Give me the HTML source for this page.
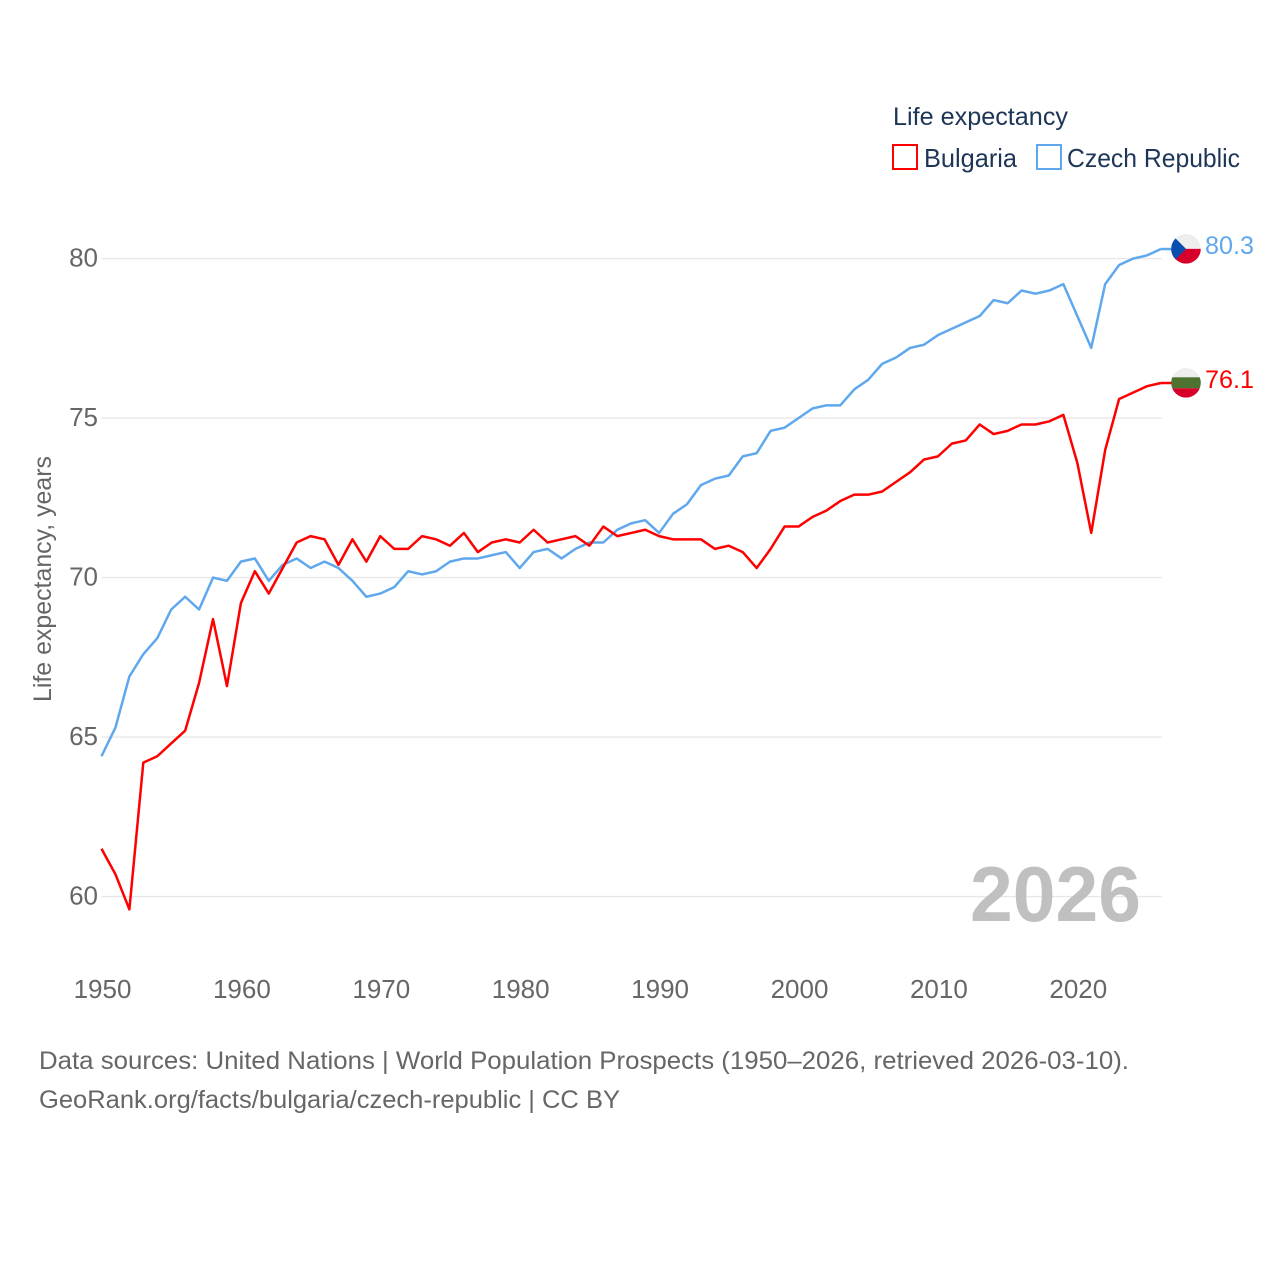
<!DOCTYPE html>
<html lang="en">
<head>
<meta charset="utf-8">
<title>Life expectancy: Bulgaria and Czech Republic</title>
<style>
html,body{margin:0;padding:0;background:#fff;width:1280px;height:1280px;overflow:hidden}
svg{display:block}
text{font-family:"Liberation Sans",sans-serif}
</style>
</head>
<body>
<svg id="chart" xmlns="http://www.w3.org/2000/svg" width="1280" height="1280" viewBox="0 0 1280 1280">
  <defs>
    <clipPath id="flag-clip-cz"><circle id="clip-cz" r="14.8"/></clipPath>
    <clipPath id="flag-clip-bg"><circle id="clip-bg" r="14.8"/></clipPath>
  </defs>
  <rect width="1280" height="1280" fill="#fff"/>
  <g id="grid"></g>
  <text x="970" y="921" font-size="78" font-weight="700" fill="#bdbdbd" fill-opacity="0.95" textLength="171" lengthAdjust="spacingAndGlyphs">2026</text>
  <g id="yticks"></g>
  <g id="xticks"></g>
  <text transform="translate(51,702) rotate(-90)" font-size="25" fill="#666" textLength="246" lengthAdjust="spacingAndGlyphs">Life expectancy, years</text>
  <g id="series"></g>
  <g id="flags"></g>

  <g>
    <text x="893" y="125" font-size="25" fill="#1d3557" textLength="175" lengthAdjust="spacingAndGlyphs">Life expectancy</text>
    <g>
      <rect x="893" y="145" width="24" height="24" fill="#fff" stroke="#ff0000" stroke-width="2"/>
      <text x="924" y="167" font-size="26" fill="#1d3557" textLength="93" lengthAdjust="spacingAndGlyphs">Bulgaria</text>
    </g>
    <g>
      <rect x="1037" y="145" width="24" height="24" fill="#fff" stroke="#5fa8ee" stroke-width="2"/>
      <text x="1067" y="167" font-size="26" fill="#1d3557" textLength="173" lengthAdjust="spacingAndGlyphs">Czech Republic</text>
    </g>
  </g>

  <text x="39" y="1069" font-size="25" fill="#666" textLength="1090" lengthAdjust="spacingAndGlyphs">Data sources: United Nations | World Population Prospects (1950–2026, retrieved 2026-03-10).</text>
  <text x="39" y="1108" font-size="25" fill="#666" textLength="581" lengthAdjust="spacingAndGlyphs">GeoRank.org/facts/bulgaria/czech-republic | CC BY</text>
</svg>
<script>
var firstYear = 1950;
var xTickLabels = [1950, 1960, 1970, 1980, 1990, 2000, 2010, 2020];
var yTickLabels = [60, 65, 70, 75, 80];
var bulgariaValues = [61.5,60.7,59.6,64.2,64.4,64.8,65.2,66.7,68.7,66.6,69.2,70.2,69.5,70.3,71.1,71.3,71.2,70.4,71.2,70.5,71.3,70.9,70.9,71.3,71.2,71.0,71.4,70.8,71.1,71.2,71.1,71.5,71.1,71.2,71.3,71.0,71.6,71.3,71.4,71.5,71.3,71.2,71.2,71.2,70.9,71.0,70.8,70.3,70.9,71.6,71.6,71.9,72.1,72.4,72.6,72.6,72.7,73.0,73.3,73.7,73.8,74.2,74.3,74.8,74.5,74.6,74.8,74.8,74.9,75.1,73.6,71.4,74.0,75.6,75.8,76.0,76.1];
var czechValues = [64.4,65.3,66.9,67.6,68.1,69.0,69.4,69.0,70.0,69.9,70.5,70.6,69.9,70.4,70.6,70.3,70.5,70.3,69.9,69.4,69.5,69.7,70.2,70.1,70.2,70.5,70.6,70.6,70.7,70.8,70.3,70.8,70.9,70.6,70.9,71.1,71.1,71.5,71.7,71.8,71.4,72.0,72.3,72.9,73.1,73.2,73.8,73.9,74.6,74.7,75.0,75.3,75.4,75.4,75.9,76.2,76.7,76.9,77.2,77.3,77.6,77.8,78.0,78.2,78.7,78.6,79.0,78.9,79.0,79.2,78.2,77.2,79.2,79.8,80.0,80.1,80.3];

var NS = 'http://www.w3.org/2000/svg';
var PLOT_LEFT = 101.5, PLOT_RIGHT = 1162, FLAG_X = 1186;
function xScale(year) { return PLOT_LEFT + (year - firstYear) * 13.94; }
function yScale(v) { return 258.6 + (80 - v) * 31.9; }
function make(tag, attrs, text) {
  var el = document.createElementNS(NS, tag);
  for (var k in attrs) el.setAttribute(k, attrs[k]);
  if (text !== undefined) el.textContent = text;
  return el;
}

var grid = document.getElementById('grid');
var yticks = document.getElementById('yticks');
var xticks = document.getElementById('xticks');
var series = document.getElementById('series');
var flags = document.getElementById('flags');

yTickLabels.forEach(function (v) {
  var line = make('line', {x1: PLOT_LEFT, x2: PLOT_RIGHT, y1: yScale(v), y2: yScale(v), stroke: '#e8e8e8', 'stroke-width': 1.4});
  
  
  grid.appendChild(line);
  var label = make('text', {x: 98, y: yScale(v) + 8, 'text-anchor': 'end', 'font-size': 26, fill: '#666'}, String(v));
  
  
  yticks.appendChild(label);
});

xTickLabels.forEach(function (y) {
  var label = make('text', {x: xScale(y) + 1, y: 998, 'text-anchor': 'middle', 'font-size': 26, fill: '#666'}, String(y));
  
  
  xticks.appendChild(label);
});

function linePoints(values) {
  return values.map(function (v, i) {
    return xScale(firstYear + i).toFixed(2) + ',' + yScale(v).toFixed(2);
  });
}

var czechLine = make('polyline', {
  points: linePoints(czechValues).join(' '),
  fill: 'none', stroke: '#5fa8ee', 'stroke-width': 2.5, 'stroke-linejoin': 'round'
});


series.appendChild(czechLine);

var bulgariaLine = make('polyline', {
  points: linePoints(bulgariaValues).join(' '),
  fill: 'none', stroke: '#ff0000', 'stroke-width': 2.5, 'stroke-linejoin': 'round'
});


series.appendChild(bulgariaLine);

var czEnd = czechValues[czechValues.length - 1];
var bgEnd = bulgariaValues[bulgariaValues.length - 1];
var czY = yScale(czEnd);
var bgY = yScale(bgEnd);
var lastX = xScale(firstYear + czechValues.length - 1);

var czConnector = make('line', {x1: lastX, x2: FLAG_X - 14, y1: czY, y2: czY, stroke: '#5fa8ee', 'stroke-width': 2.5});


flags.appendChild(czConnector);

var bgConnector = make('line', {x1: lastX, x2: FLAG_X - 14, y1: bgY, y2: bgY, stroke: '#ff0000', 'stroke-width': 2.5});


flags.appendChild(bgConnector);

var cy = czY - 0.2;
var by = bgY - 0.2;
document.getElementById('clip-cz').setAttribute('cx', FLAG_X);
document.getElementById('clip-cz').setAttribute('cy', cy);
document.getElementById('clip-bg').setAttribute('cx', FLAG_X);
document.getElementById('clip-bg').setAttribute('cy', by);

var czFlag = make('g', {'clip-path': 'url(#flag-clip-cz)'});


czFlag.appendChild(make('rect', {x: FLAG_X - 16, y: cy - 16, width: 32, height: 16, fill: '#eeeeee'}));
czFlag.appendChild(make('rect', {x: FLAG_X - 16, y: cy, width: 32, height: 16, fill: '#d7002b'}));
czFlag.appendChild(make('polygon', {
  points: (FLAG_X - 16) + ',' + (cy - 16) + ' ' + FLAG_X + ',' + cy + ' ' + (FLAG_X - 16) + ',' + (cy + 16),
  fill: '#0a4fb0'
}));
flags.appendChild(czFlag);

var bgFlag = make('g', {'clip-path': 'url(#flag-clip-bg)'});


bgFlag.appendChild(make('rect', {x: FLAG_X - 16, y: by - 16, width: 32, height: 11, fill: '#eeeeee'}));
bgFlag.appendChild(make('rect', {x: FLAG_X - 16, y: by - 5.5, width: 32, height: 11, fill: '#4e7230'}));
bgFlag.appendChild(make('rect', {x: FLAG_X - 16, y: by + 5.5, width: 32, height: 11, fill: '#d7002b'}));
flags.appendChild(bgFlag);

var czValueLabel = make('text', {x: 1205, y: czY + 5, 'font-size': 25, fill: '#5fa8ee', textLength: 49, lengthAdjust: 'spacingAndGlyphs'}, czEnd.toFixed(1));


flags.appendChild(czValueLabel);

var bgValueLabel = make('text', {x: 1205, y: bgY + 5, 'font-size': 25, fill: '#ff0000', textLength: 49, lengthAdjust: 'spacingAndGlyphs'}, bgEnd.toFixed(1));


flags.appendChild(bgValueLabel);
</script>
</body>
</html>
